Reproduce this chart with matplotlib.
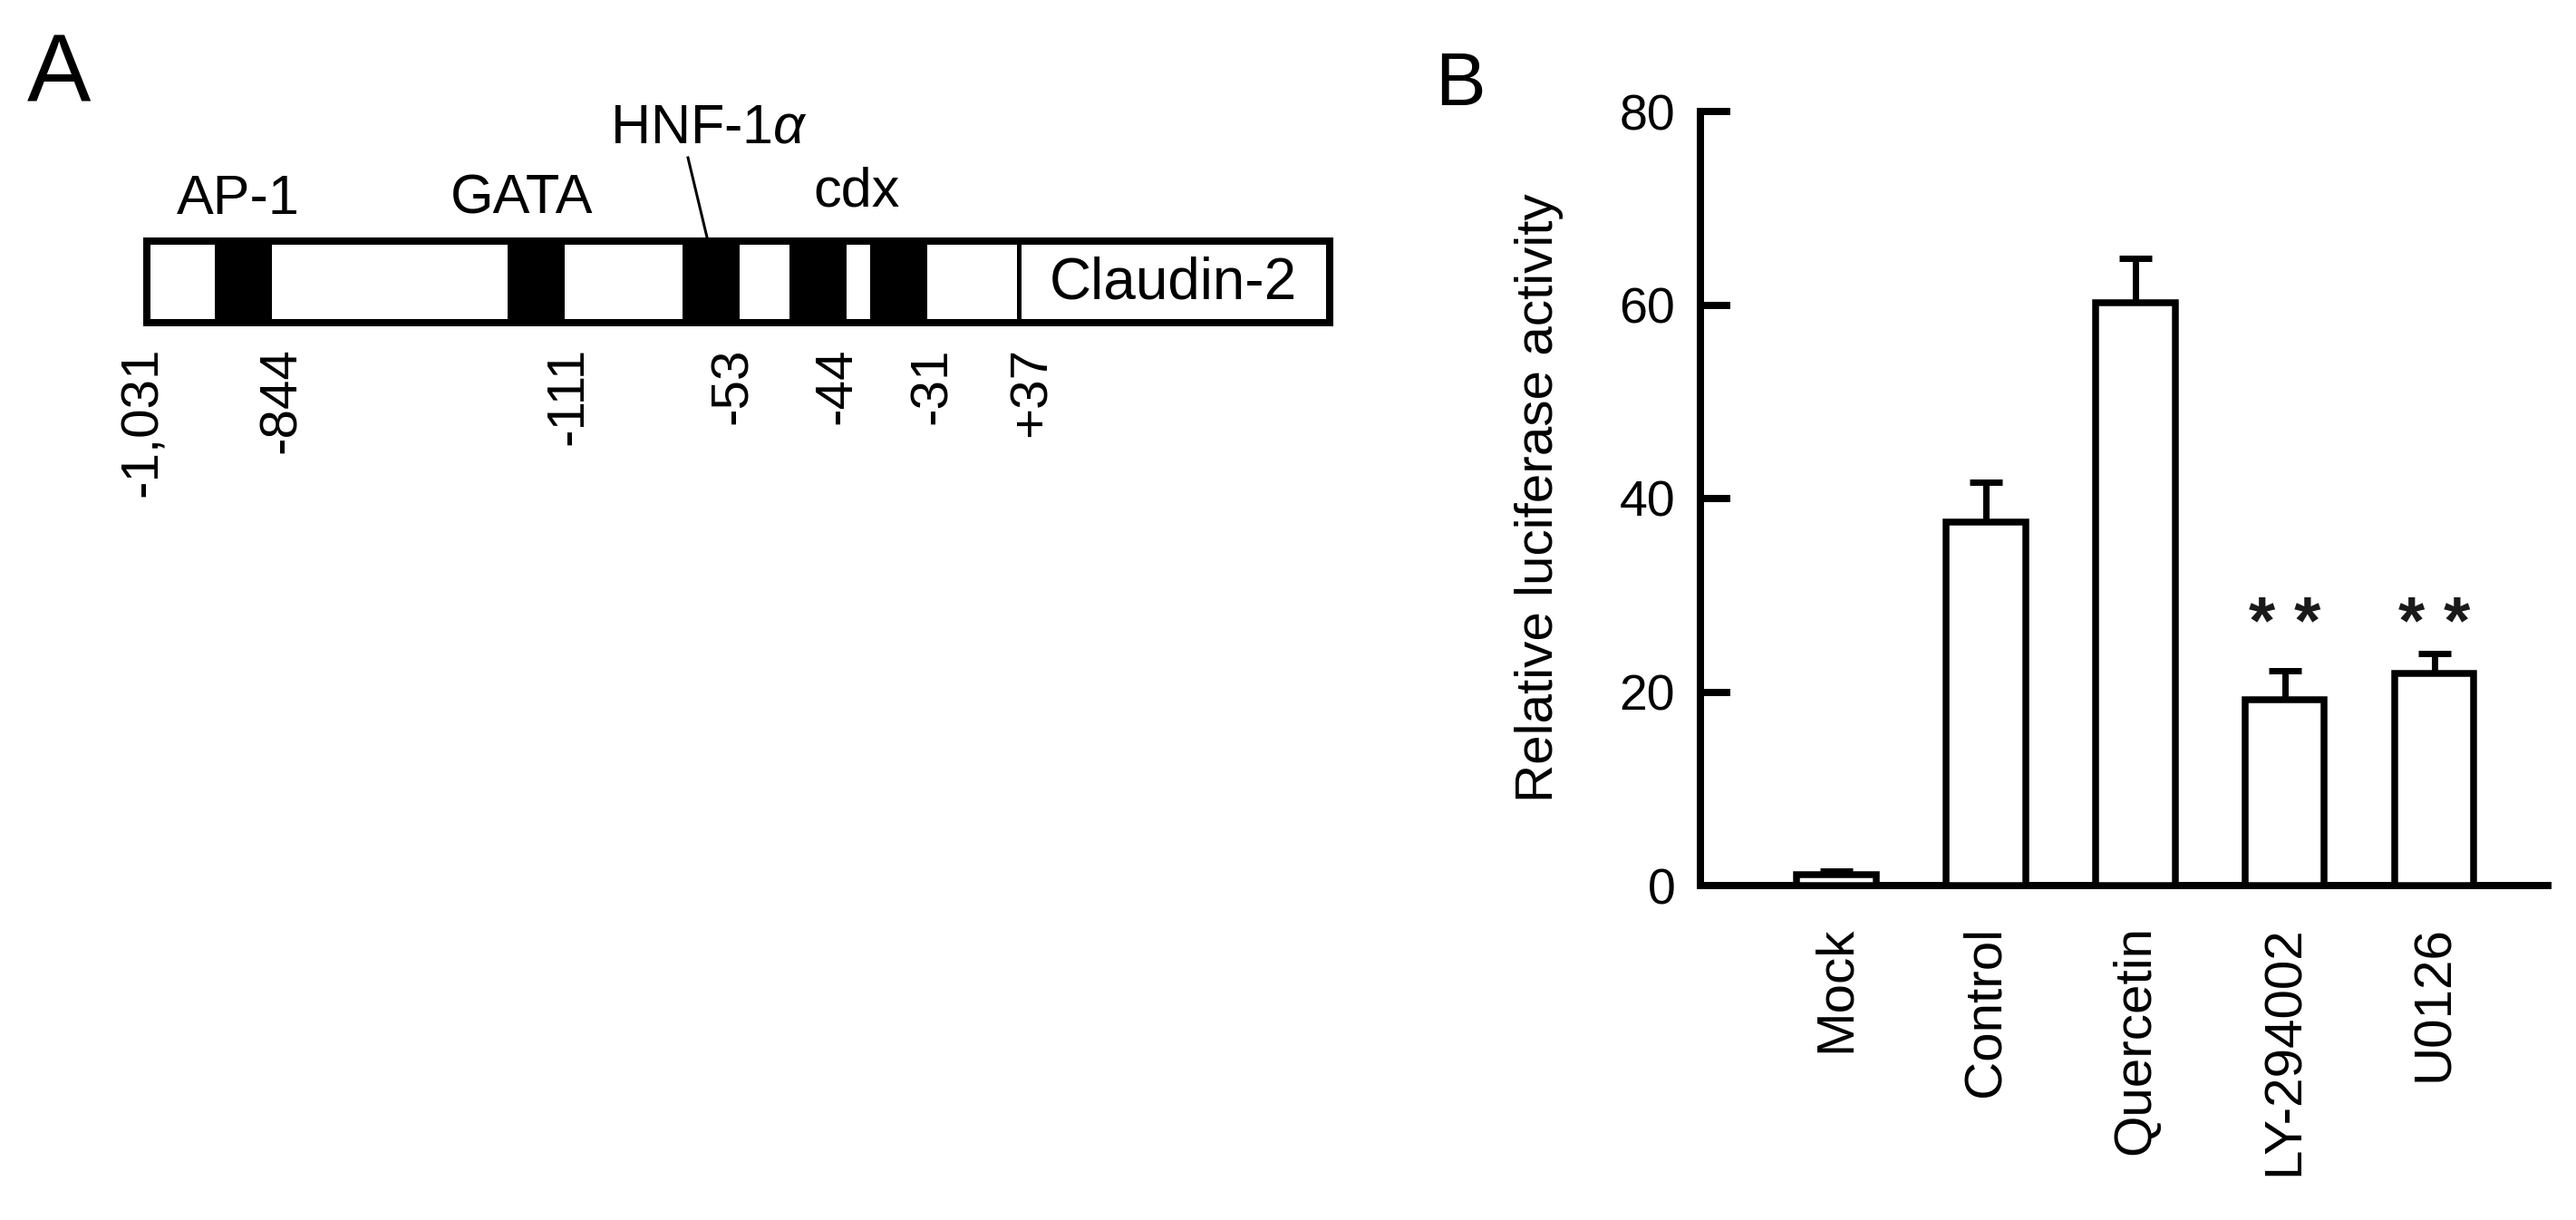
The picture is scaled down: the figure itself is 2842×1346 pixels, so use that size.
import numpy as np
import matplotlib
matplotlib.use("Agg")
import matplotlib.pyplot as plt
from matplotlib.patches import Rectangle

plt.rcParams['font.family'] = ['Liberation Sans', 'DejaVu Sans']
plt.rcParams['mathtext.fontset'] = 'custom'
plt.rcParams['mathtext.it'] = 'Liberation Sans:italic'
plt.rcParams['mathtext.rm'] = 'Liberation Sans'

# ---- panel A: claudin-2 promoter schematic (pixel layout of the figure) ----
site_names = ['AP-1', 'GATA', r'HNF-1$\alpha$', 'cdx']
site_blocks = [237, 560, 753, 871, 960]          # left edge of each black box
pos_labels = ['-1,031', '-844', '-111', '-53', '-44', '-31', '+37']
pos_x = [158, 311, 627, 809, 923, 1029, 1139]

# ---- panel B: luciferase data ----
groups = ['Mock', 'Control', 'Quercetin', 'LY-294002', 'U0126']
activity = [1.1, 37.6, 60.2, 19.2, 21.9]
sem = [0.4, 4.1, 4.6, 3.0, 2.1]
signif = ['', '', '', '* *', '* *']
star_level = 25.0

W, H = 2842, 1346
DPI = 200
fig = plt.figure(figsize=(W / DPI, H / DPI), dpi=DPI)

axA = fig.add_axes([0, 0, 1, 1])
axA.set_xlim(0, W)
axA.set_ylim(H, 0)
axA.axis('off')

lw = 8 * 72 / DPI  # ~8 px lines

# outer box
axA.add_patch(Rectangle((162, 266), 1305, 90, fill=False, ec='black', lw=lw))
# black sites
for x0 in site_blocks:
    axA.add_patch(Rectangle((x0, 266), 63, 90, fc='black', ec='none'))
# divider before Claudin-2
axA.plot([1124, 1124], [266, 356], color='black', lw=5 * 72 / DPI)
axA.text(1294, 312, 'Claudin-2', fontsize=23, ha='center', va='center')

fs = 22
axA.text(263, 236, site_names[0], fontsize=fs, ha='center', va='baseline')
axA.text(576, 236, site_names[1], fontsize=fs, ha='center', va='baseline')
axA.text(782, 157, site_names[2], fontsize=fs, ha='center', va='baseline')
axA.text(945, 228, site_names[3], fontsize=fs, ha='center', va='baseline')
axA.plot([759, 781], [174, 266], color='black', lw=3 * 72 / DPI)

for lab, x in zip(pos_labels, pos_x):
    axA.text(x, 383, lab, fontsize=21, rotation=90, ha='center', va='top')

axA.text(30, 112, 'A', fontsize=38, ha='left', va='baseline')
axA.text(1583, 116, 'B', fontsize=30, ha='left', va='baseline')
axA.text(1698, 549, 'Relative luciferase activity', fontsize=21,
         rotation=90, ha='center', va='center')

# ---- panel B axes ----
left, right = 1876, 2811
y0, y80 = 977, 123
axB = fig.add_axes([left / W, 1 - y0 / H, (right - left) / W, (y0 - y80) / H])
axB.patch.set_alpha(0)

x = np.arange(len(groups))
axB.bar(x, activity, width=0.53, color='white', edgecolor='black',
        linewidth=7.5 * 72 / DPI, zorder=3)
axB.errorbar(x, activity, yerr=[np.zeros(len(sem)), sem], fmt='none',
             ecolor='black', elinewidth=7 * 72 / DPI, capsize=6.5,
             capthick=7 * 72 / DPI, zorder=2)
for xi, s in zip(x, signif):
    if s:
        axB.text(xi, star_level, s, fontsize=27, ha='center', va='baseline',
                 color='#1a1a1a', fontweight='bold')

axB.set_xlim(-0.91, 4.76)
axB.set_ylim(0, 80)
axB.set_yticks([0, 20, 40, 60, 80])
axB.tick_params(axis='y', direction='in', length=11.9, width=lw,
                labelsize=20, pad=10)
axB.set_xticks(x)
axB.set_xticklabels(groups, rotation=90, fontsize=21, va='top', ha='center')
axB.tick_params(axis='x', length=0, pad=16)
for sp in ['top', 'right']:
    axB.spines[sp].set_visible(False)
for sp in ['left', 'bottom']:
    axB.spines[sp].set_linewidth(lw)

fig.savefig('out.png', dpi=DPI)
